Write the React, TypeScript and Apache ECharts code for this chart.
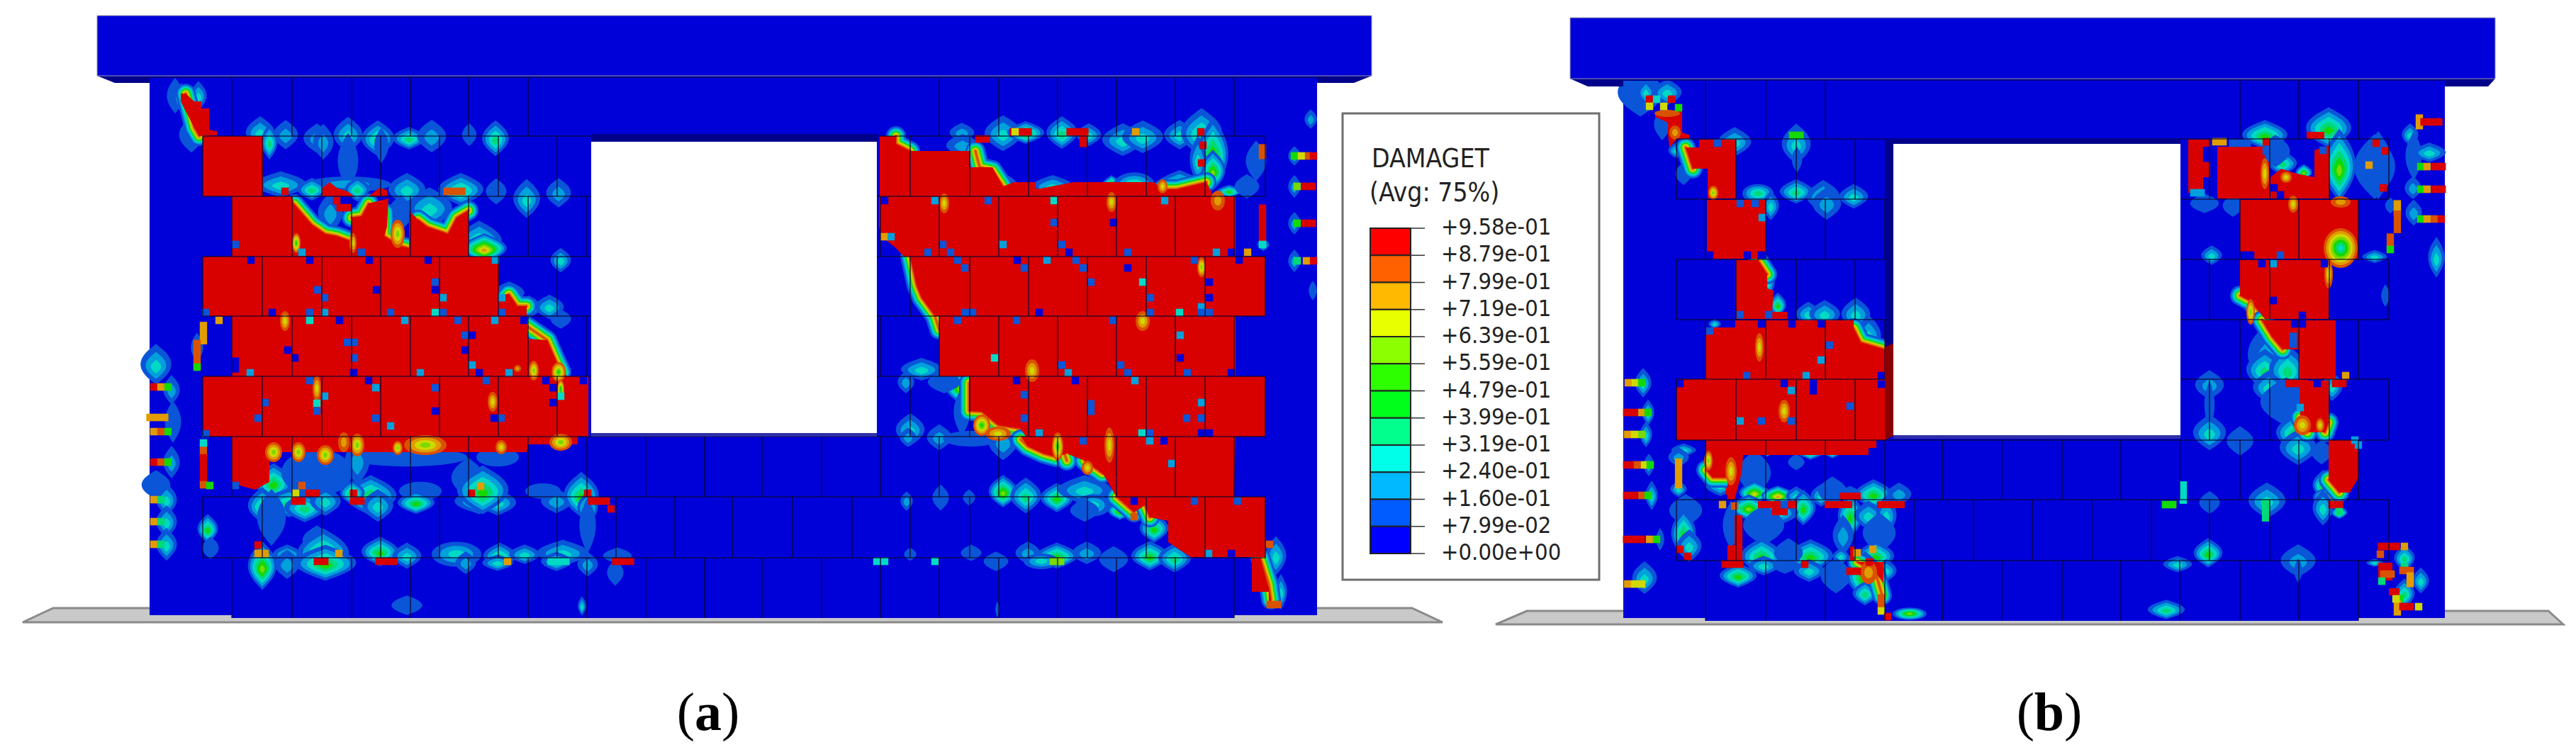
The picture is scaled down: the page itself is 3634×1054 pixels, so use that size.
import React, { useEffect, useRef } from "react";
import * as echarts from "echarts";

const W = 3634, H = 1054;

// contour palette (model, shaded) level 0..10
const levelColors = ["#0000d9","#0a55d8","#00a0dc","#00d9c5","#00d977","#14d900","#7ad900","#cfd900","#e09c00","#d95200","#d90000"];
const legendColors = ["#ff0000","#ff6000","#ffb900","#e8ff00","#8cff00","#2eff00","#00ff1a","#00ff8c","#00ffe8","#00b9ff","#005cff","#0000ff"];
const legendLabels = ["+9.58e-01","+8.79e-01","+7.99e-01","+7.19e-01","+6.39e-01","+5.59e-01","+4.79e-01","+3.99e-01","+3.19e-01","+2.40e-01","+1.60e-01","+7.99e-02","+0.00e+00"];

const plates = [
  [[32,878],[75,858],[1992,858],[2035,878]],
  [[2110,881],[2154,862],[3595,862],[3616,881]],
];
const walls = [
  [[211,107],[1858,107],[1858,868],[1741,868],[1741,872],[327,872],[327,868],[211,868]],
  [[2290,111],[3449,111],[3449,872],[3327,872],[3327,876],[2406,876],[2406,872],[2290,872]],
];
const beamFaces = [
  [[137,22],[1935,22],[1935,107],[137,107]],
  [[2215,25],[3520,25],[3520,111],[2215,111]],
];
const beamUndersides = [
  [[137,107],[1935,107],[1910,117],[1858,117],[1858,110],[211,110],[211,117],[162,117]],
  [[2215,111],[3520,111],[3510,122],[3449,122],[3449,114],[2290,114],[2290,122],[2240,122]],
];
const windows = [
  [[834,200],[1237,200],[1237,611],[834,611]],
  [[2671,203],[3076,203],[3076,614],[2671,614]],
];
const darkStrips = [
  [[834,189],[1239,189],[1239,200],[834,200]],
  [[2659,195],[3076,195],[3076,203],[2671,203],[2671,615],[2659,621]],
];
const litStrips = [
  [[2659,490],[2671,484],[2671,615],[2659,621]],
];
const sills = [
  [[834,611],[1237,611],[1237,616],[834,616]],
  [[2671,614],[3076,614],[3076,619],[2671,619]],
];

// Mortar joints
const evenJointsA = [327,412,496,579,661,745,828,911,994,1075,1159,1242,1325,1409,1492,1575,1658,1741];
const oddJointsA = [286,370,454,537,620,703,786,869,952,1033,1118,1202,1284,1368,1451,1534,1617,1700,1785];
const courseYA = [107,192,277,362,446,531,616,701,787,872];
const evenJointsB = [2406,2491,2575,2659,2740,2824,2909,2992,3075,3160,3243,3327];
const oddJointsB = [2365,2449,2534,2617,2700,2784,2867,2951,3035,3117,3202,3286,3370];
const courseYB = [111,196,281,366,451,535,621,705,791,876];

// Damaged (red) zones
const redZones: number[][][] = [
  // (a) left
  [[286,192],[371,192],[371,277],[286,277]],
  [[327,277],[412,277],[415,288],[440,317],[459,330],[475,333],[494,340],[496,307],[510,305],[520,287],[548,280],[546,320],[542,333],[565,347],[577,350],[577,297],[590,310],[603,320],[632,330],[644,307],[661,297],[661,362],[327,362]],
  [[286,362],[704,362],[704,446],[286,446]],
  [[704,446],[704,415],[718,415],[730,432],[743,432],[743,446]],
  [[327,446],[743,446],[745,478],[772,480],[785,510],[800,531],[327,531]],
  [[286,531],[830,531],[830,616],[286,616]],
  [[327,616],[815,616],[815,627],[745,627],[743,638],[660,638],[380,638],[380,680],[360,691],[327,682]],
  [[255,132],[262,132],[274,143],[284,143],[284,153],[295,153],[295,183],[306,185],[306,191],[281,192],[274,180],[262,157],[255,143]],
  [[455,277],[455,265],[465,257],[475,265],[490,270],[500,277]],
  [[520,277],[535,265],[546,268],[546,277]],
  // (a) right
  [[1241,192],[1264,192],[1264,203],[1284,213],[1369,213],[1369,236],[1400,236],[1415,263],[1430,257],[1460,257],[1462,267],[1515,257],[1628,257],[1640,267],[1660,267],[1702,257],[1712,277],[1241,277]],
  [[1240,277],[1743,277],[1743,362],[1275,362],[1264,350],[1245,335],[1240,320]],
  [[1284,362],[1785,362],[1785,446],[1319,446],[1300,420],[1293,403]],
  [[1325,446],[1743,446],[1743,531],[1325,531]],
  [[1367,531],[1785,531],[1785,616],[1447,616],[1440,605],[1408,600],[1385,581],[1367,580]],
  [[1440,616],[1743,616],[1741,701],[1575,701],[1558,672],[1555,668],[1530,650],[1505,640],[1490,645],[1472,640],[1450,630]],
  [[1575,701],[1785,701],[1785,786],[1680,786],[1648,765],[1648,735],[1622,730],[1615,713],[1600,723],[1580,705]],
  [[1766,787],[1778,787],[1790,830],[1795,856],[1790,856],[1790,835],[1766,835]],
  // (b) left
  [[2397,197],[2449,197],[2449,280],[2409,280],[2409,238],[2388,238],[2378,208],[2397,208]],
  [[2408,282],[2491,282],[2491,365],[2408,365]],
  [[2449,367],[2480,367],[2493,387],[2493,407],[2502,410],[2500,440],[2521,440],[2522,450],[2449,450]],
  [[2406,462],[2448,462],[2448,452],[2615,452],[2615,463],[2625,483],[2659,493],[2659,535],[2406,535]],
  [[2365,535],[2659,535],[2659,621],[2365,621]],
  [[2407,621],[2647,621],[2647,632],[2636,632],[2636,642],[2459,642],[2457,667],[2447,705],[2437,705],[2437,674],[2416,674],[2407,663]],
  [[2335,157],[2373,157],[2373,187],[2383,190],[2383,195],[2365,197],[2355,208],[2353,190],[2353,173],[2335,165]],
  [[2620,793],[2657,793],[2657,823],[2646,808]],
  [[2447,727],[2458,727],[2458,791],[2447,791]],
  [[2480,707],[2531,707],[2531,717],[2522,717],[2522,727],[2500,727],[2500,717],[2480,717]],
  [[2574,707],[2613,707],[2613,717],[2574,717]],
  [[2648,707],[2687,707],[2687,717],[2648,717]],
  [[2595,695],[2625,695],[2625,705],[2595,705]],
  [[2610,771],[2616,771],[2616,791],[2610,791]],
  // (b) right
  [[3087,197],[3118,197],[3118,207],[3108,207],[3108,228],[3118,228],[3118,250],[3108,250],[3108,272],[3087,272]],
  [[3128,207],[3195,207],[3195,228],[3202,228],[3202,280],[3128,280]],
  [[3203,280],[3203,250],[3218,238],[3240,245],[3265,250],[3265,212],[3286,205],[3286,280]],
  [[3160,282],[3327,282],[3327,365],[3160,365]],
  [[3160,367],[3285,367],[3285,450],[3195,450],[3175,425],[3160,417]],
  [[3191,452],[3295,452],[3295,535],[3244,535],[3244,493],[3220,493],[3205,475]],
  [[3233,537],[3285,537],[3285,596],[3280,610],[3255,610],[3245,589],[3244,546],[3233,546]],
  [[3285,621],[3327,621],[3327,674],[3315,695],[3300,695],[3285,677]],
  [[3254,186],[3279,186],[3279,196],[3254,196]],
  [[3355,794],[3375,794],[3375,819],[3355,819]],
  [[3370,830],[3385,830],[3385,840],[3370,840]],
];

// Soft contour bands along damage fronts
const fronts: number[][][] = [
  [[262,132],[274,180],[281,192]],
  [[415,288],[440,317],[459,330],[475,333],[494,340]],
  [[496,307],[510,305],[520,287]],
  [[542,300],[542,333],[565,347],[577,350]],
  [[590,310],[603,320],[632,330],[644,307],[661,297]],
  [[704,430],[718,415],[730,432],[743,432]],
  [[743,460],[772,480],[785,510],[792,525]],
  [[1376,213],[1382,236],[1400,240],[1415,263]],
  [[1640,267],[1660,267],[1702,257]],
  [[1264,192],[1264,203],[1284,213]],
  [[1284,362],[1293,403],[1300,420],[1319,446],[1325,465]],
  [[1367,540],[1367,580],[1385,581],[1408,600],[1440,605],[1447,616]],
  [[1440,620],[1450,630],[1472,640],[1490,645]],
  [[1495,620],[1505,650]],
  [[1530,650],[1555,668]],
  [[1575,701],[1600,723]],
  [[1615,713],[1622,730]],
  [[1778,787],[1790,825],[1793,846]],
  [[2480,367],[2493,387]],
  [[2378,208],[2388,238]],
  [[2615,463],[2625,483],[2659,493]],
  [[2407,663],[2416,674],[2437,674]],
  [[3160,417],[3175,425],[3195,450]],
  [[3191,452],[3205,475],[3220,493]],
  [[3285,677],[3300,695]],
  [[3245,589],[3255,610]],
  [[3285,596],[3280,610]],
  [[2620,793],[2646,808],[2655,840]],
];

// Nested contour patches: x, y, rx, ry, highest level
const patches: number[][] = [
  // (a) upper left
  [367,187,14,20,3],[403,190,12,18,2],[447,195,13,18,2],[491,190,14,22,3],[533,195,16,22,4],[577,195,16,14,4],[609,192,14,20,2],[662,190,7,14,1],[699,195,13,22,4],
  [380,200,8,22,4],[456,200,10,22,2],[538,205,7,22,1],[491,227,10,35,1],[491,260,60,10,2],[396,260,25,16,3],[440,267,14,14,4],[504,267,12,15,4],[574,267,18,20,3],[650,267,22,20,4],[700,270,10,16,1],[743,280,13,24,3],[788,272,12,18,2],
  [466,300,12,25,2],[565,300,12,22,1],[606,293,22,25,3],[676,340,22,25,4],[683,350,22,18,8],[718,413,15,14,3],[746,433,12,14,4],[775,433,14,15,3],[791,450,10,12,1],[791,367,10,15,3],
  [247,135,8,22,1],[256,138,8,18,3],[280,135,8,18,3],[270,190,12,22,1],
  [220,514,15,25,3],[220,684,14,18,1],[278,490,6,18,1],
  [242,550,8,18,2],[244,595,8,26,1],[242,652,8,20,2],[235,705,10,20,3],[235,736,10,20,3],[235,768,10,20,3],
  // (a) lower left
  [386,681,18,24,5],[447,667,50,30,1],[574,645,85,12,1],[702,645,30,12,1],[504,650,12,30,2],[660,674,16,25,1],[593,693,30,12,1],[766,693,25,10,1],
  [370,713,14,22,4],[408,709,25,18,4],[430,716,20,18,4],[459,707,15,18,3],[523,699,25,25,5],[497,695,12,15,5],[533,713,15,20,3],[587,709,18,14,5],[676,707,24,16,3],[702,709,18,16,3],[681,691,25,30,5],[785,707,15,15,2],[820,698,17,28,5],[829,716,10,20,4],
  [383,730,14,35,1],[829,741,8,35,1],[293,746,10,18,5],[297,773,8,14,1],[447,762,14,18,1],
  [405,782,14,12,3],[456,780,25,30,5],[459,794,30,22,5],[370,798,14,30,6],[405,796,12,18,2],[536,778,18,18,5],[574,784,14,16,3],[644,782,35,16,3],[657,794,10,14,2],[705,784,16,16,4],[740,782,15,12,3],[702,794,15,10,3],[794,780,25,16,3],[785,792,15,12,3],[829,796,10,15,2],[871,784,14,10,1],[868,808,8,16,1],[574,854,15,12,1],[821,855,4,12,3],
  // (a) upper right
  [1849,168,6,12,2],[1852,410,4,12,1],[1826,220,6,12,2],[1826,263,6,14,2],[1826,315,6,14,2],[1826,368,6,14,2],
  [1357,187,12,12,2],[1415,188,18,22,3],[1447,187,18,14,5],[1498,187,15,20,4],[1536,190,12,14,3],[1584,197,20,20,3],[1612,193,20,20,3],[1664,190,15,18,3],[1695,187,20,30,4],[1711,217,15,45,6],[1711,240,12,25,6],
  [1415,262,14,16,3],[1485,263,20,14,3],[1568,263,10,14,8],[1600,263,30,18,4],[1664,263,24,20,5],[1734,270,12,8,5],[1772,227,10,25,1],[1759,263,12,15,1],[1358,205,16,14,2],[1276,300,8,30,1],
  [1690,225,8,30,3],[1782,345,6,8,3],
  // (a) lower right
  [1300,521,20,14,3],[1278,539,8,14,2],[1284,606,14,20,3],[1281,617,8,12,2],[1325,617,12,16,2],[1370,619,40,10,1],[1415,624,14,22,2],[1354,546,14,20,6],[1332,539,16,14,1],[1357,581,8,30,1],
  [1415,693,14,20,6],[1447,699,15,22,4],[1491,702,16,18,5],[1530,691,26,18,3],[1542,713,25,14,3],[1580,720,12,12,6],[1530,720,14,14,1],[1628,745,14,18,5],[1327,702,8,16,1],[1367,702,6,10,1],[1279,707,6,12,2],
  [1450,780,12,14,2],[1491,784,20,16,5],[1469,792,25,10,3],[1533,780,14,14,2],[1571,789,14,16,1],[1622,784,18,18,5],[1657,787,16,18,4],[1284,782,6,8,1],[1370,780,10,10,1],[1405,792,12,12,1],[1800,784,10,24,3],[1807,835,6,22,3],[1407,860,2,10,1],
  // (b) upper left
  [2314,130,22,30,1],[2352,130,14,16,3],[2322,130,8,16,3],[2345,175,8,20,1],[2365,212,8,10,3],[2375,245,8,14,1],
  [2447,200,16,18,3],[2480,273,22,12,4],[2534,270,16,15,4],[2572,277,16,20,3],[2615,277,14,15,3],[2534,203,14,25,3],[2577,287,14,20,2],[2498,290,8,18,3],[2535,225,5,16,1],
  [2508,430,8,15,5],[2495,397,6,20,3],[2551,443,12,15,3],[2574,443,15,17,3],[2618,443,14,20,3],[2636,473,12,25,3],[2643,490,12,8,7],[2419,457,6,6,3],
  // (b) lower left
  [2375,635,12,8,3],[2368,645,10,12,2],[2368,690,8,10,3],
  [2554,635,15,12,6],[2585,633,12,12,7],[2478,628,8,6,3],[2493,633,8,10,8],[2534,652,8,10,1],[2475,667,16,28,1],[2475,695,15,14,7],[2508,699,16,12,8],[2534,700,10,12,3],[2569,699,10,14,3],[2585,693,14,18,1],[2643,697,18,18,5],[2610,697,10,10,1],[2679,697,12,14,2],[2427,684,15,14,3],
  [2467,716,18,16,6],[2544,716,12,22,5],[2610,727,12,28,5],[2636,727,14,18,3],[2661,727,10,25,3],[2508,723,20,16,3],[2378,720,16,20,1],[2375,752,12,30,5],[2383,770,12,20,3],[2442,741,8,30,1],[2488,741,20,25,1],[2651,752,16,25,1],[2600,755,10,25,2],
  [2485,784,20,22,5],[2554,784,22,20,5],[2646,784,18,18,5],[2523,780,14,18,1],[2597,785,8,10,3],[2452,812,18,15,5],[2488,798,15,12,3],[2552,805,15,14,3],[2518,798,12,10,1],[2590,812,15,22,1],[2631,812,18,30,6],[2631,837,12,15,4],[2661,805,10,14,3],[2694,866,24,8,6],
  [2318,540,8,18,3],[2325,582,6,16,3],[2322,613,6,16,3],[2326,656,5,14,2],[2330,699,6,18,3],[2342,761,4,14,1],[2320,815,12,20,3],
  // (b) upper right
  [3285,180,22,25,5],[3195,190,22,18,5],[3300,233,16,45,6],[3355,233,14,42,6],[3220,230,14,15,4],[3210,213,14,20,1],[3250,243,8,10,6],
  [3110,287,14,12,1],[3150,290,10,14,1],[3120,360,10,12,3],[3350,362,12,8,3],[3365,417,4,14,1],
  [3400,190,8,14,3],[3405,220,8,30,1],[3404,265,8,14,2],[3405,300,8,16,2],[3437,363,8,25,3],
  [3427,215,16,12,3],[3372,290,5,10,1],[3350,235,20,40,1],
  // (b) lower right
  [3200,500,20,40,2],[3195,521,18,25,4],[3227,521,18,30,4],[3117,543,14,18,2],[3117,571,5,30,1],[3117,610,16,22,3],[3160,622,13,18,1],[3200,546,15,20,3],[3225,567,25,30,1],[3240,610,20,24,5],[3242,631,18,22,3],[3275,638,10,15,1],[3277,684,10,18,5],[3285,702,22,12,7],[3277,716,10,22,3],[3300,723,8,8,5],[3198,706,18,22,3],[3117,709,10,14,1],[3115,780,14,18,5],[3242,791,17,20,2],[3242,805,4,15,1],[3072,796,14,10,3],[3056,860,18,12,4],
  [3415,819,8,16,3],[3392,787,10,16,4],[3392,837,10,18,4],[3350,794,8,5,3],[3290,545,10,18,3],
];

// Patches of lower damage inside red zones: x, y, rx, ry, lowest level
const dips: number[][] = [
  [695,567,7,14,7],[447,548,6,18,7],[753,523,7,14,6],[788,525,10,14,5],[402,453,7,14,7],[791,550,5,14,4],[561,330,10,20,6],[498,343,5,14,7],[418,343,6,14,5],
  [600,628,30,14,6],[791,624,16,12,6],[504,628,10,16,6],[386,638,12,14,6],[459,642,12,14,6],[421,638,10,14,6],[561,632,7,10,6],[707,631,8,10,7],[485,624,8,14,8],[730,520,5,5,8],
  [1612,453,10,14,7],[1456,523,10,16,7],[1695,377,6,14,6],[1565,628,7,25,7],[1332,287,7,14,7],[1568,285,7,14,7],[1718,283,10,14,8],[1640,263,7,10,7],
  [1385,600,12,15,5],[1408,612,18,10,7],[1492,630,8,20,5],[1534,660,8,10,7],
  [2417,272,7,10,6],[2482,490,6,20,7],[3235,288,7,12,7],[3302,285,14,8,8],[3302,350,24,28,3],[3225,250,8,8,7],[3195,245,6,22,7],
  [3285,387,6,20,7],[2517,580,8,16,7],[2410,650,6,14,6],[2442,665,8,20,7],[3248,600,12,14,7],[3273,600,6,10,7],[3175,440,6,18,6],
  [2352,160,18,5,9],[2363,187,8,10,8],[2636,808,12,16,8],
];

// Single mesh elements: x, y, level, cells wide, cells tall
const elements: number[][] = [
  // (a) left wall
  [332,345,1,1,1],[426,356,2,1,1],[510,356,1,1,1],[354,367,0,1,1],[437,367,0,1,1],[521,367,0,1,1],[604,367,0,1,1],[699,367,2,1,1],[614,398,1,1,1],[614,409,0,1,1],[448,409,1,1,1],[531,409,0,1,1],[458,420,1,1,1],[625,420,2,1,1],[708,420,2,1,1],[290,441,1,1,1],[384,441,0,1,1],[437,441,1,1,1],[458,441,2,1,1],[551,441,1,1,1],[614,441,3,1,1],[625,441,1,1,1],[708,441,1,1,1],
  [437,452,3,1,1],[479,452,0,1,1],[571,452,2,1,1],[646,452,1,1,1],[698,452,2,1,1],[739,452,0,1,1],[656,473,1,1,1],[666,473,0,1,1],[490,483,1,1,1],[500,483,1,1,1],[406,494,0,1,1],[656,494,0,1,1],[416,505,0,1,1],[500,505,1,1,1],[666,515,2,1,1],[332,515,0,1,2],[353,526,2,1,1],[499,526,0,1,1],[593,526,2,1,1],[676,526,0,1,1],[718,526,2,1,1],
  [437,537,1,1,1],[520,537,0,1,1],[530,547,2,1,1],[686,537,1,1,1],[770,537,0,1,1],[780,547,0,1,1],[823,537,0,1,1],[614,547,1,1,1],[447,569,3,1,1],[374,568,1,1,1],[780,568,0,1,1],[447,580,1,1,1],[614,580,0,1,1],[364,590,1,1,1],[530,590,1,1,1],[551,601,2,1,1],[697,590,0,1,1],[707,590,1,1,1],[290,612,1,1,1],[458,559,2,1,1],[791,559,3,1,1],[309,452,8,1,1],
  [287,470,8,1,3],[278,490,9,1,2],[278,505,9,1,3],[278,518,5,1,1],[287,636,9,1,2],[287,662,10,1,4],[287,684,9,1,1],[287,625,3,1,1],
  [475,283,10,1,1],[485,293,10,2,1],[641,270,9,3,1],[402,270,10,1,1],
  // (a) wall bars left
  [217,546,10,1,1],[227,546,8,1,1],[237,546,5,1,1],[222,589,8,3,1],[217,609,8,1,1],[227,609,9,1,1],[237,609,5,1,1],[217,652,10,1,1],[227,652,9,1,1],[237,652,5,1,1],[217,705,8,1,1],[227,705,4,1,1],[217,736,8,1,1],[227,736,4,1,1],[217,768,8,1,1],[227,768,4,1,1],
  // (a) band elements
  [829,696,10,1,1],[845,707,10,3,1],[862,718,10,1,1],[665,696,10,1,1],[499,696,10,1,1],[421,707,10,2,1],[441,696,10,2,1],[504,707,10,2,1],[426,685,9,1,1],[417,696,7,1,1],[332,685,1,1,1],[678,686,8,1,1],[364,769,10,1,1],[364,781,8,1,1],[374,781,8,1,1],[478,781,8,1,1],[453,792,10,2,1],[545,792,10,3,1],[879,792,10,3,1],[716,792,8,1,1],[788,792,3,3,1],[296,685,5,1,1],
  [1781,315,10,1,5],[1781,345,3,1,1],
  // (a) right wall
  [1248,283,0,1,1],[1319,283,2,1,1],[1394,283,1,1,1],[1487,283,3,1,1],[1643,283,2,1,1],[1487,314,1,1,1],[1571,314,0,1,1],[1257,334,2,1,1],[1247,334,8,1,1],[1330,345,1,1,1],[1415,345,2,1,1],[1498,345,1,1,1],[1309,356,1,1,1],[1341,356,1,1,1],[1508,356,0,1,1],[1591,356,1,1,1],[1716,356,2,1,1],[1737,356,0,1,1],[1760,356,8,1,1],[1351,367,1,1,1],[1435,367,0,1,1],[1477,367,2,1,1],[1518,367,1,1,1],[1685,367,1,1,1],[1748,367,0,1,1],[1361,378,1,1,1],[1445,378,1,1,1],[1528,378,1,1,1],[1591,378,0,1,1],[1539,398,1,1,1],[1612,398,3,1,1],[1706,398,0,1,1],[1623,420,1,1,1],[1706,420,0,1,1],[1362,441,1,1,1],[1372,441,1,1,1],[1466,441,0,1,1],[1623,441,1,1,1],[1664,441,3,1,1],[1695,433,2,1,1],[1695,441,1,1,1],[1706,441,1,1,1],[1351,452,1,1,1],[1434,452,1,1,1],[1570,452,1,1,1],[1665,473,2,1,1],[1403,505,3,1,1],[1665,505,0,1,1],[1498,515,1,1,1],[1581,515,1,1,1],[1507,526,2,1,1],[1591,526,1,1,1],[1675,526,1,1,1],[1737,526,0,1,1],
  [1434,537,0,1,1],[1517,537,0,1,1],[1601,537,2,1,1],[1445,557,1,1,1],[1539,575,1,1,2],[1695,568,2,1,1],[1445,590,1,1,1],[1674,590,1,1,1],[1695,590,1,1,1],[1466,611,2,1,1],[1611,611,3,1,1],[1622,611,1,1,1],[1695,611,0,1,1],[1706,611,0,1,1],[1528,622,1,1,1],[1622,622,2,1,1],[1642,622,0,1,1],[1653,654,2,1,1],[1600,707,0,1,1],[1685,707,1,1,1],[1746,707,1,1,1],[1600,729,9,1,1],[1705,781,2,1,1],[1737,781,0,1,1],
  [1237,792,3,1,1],[1248,792,3,1,1],[1319,792,3,1,1],[1491,792,6,2,1],[1791,768,9,1,1],[1797,853,9,2,1],
  [1386,196,10,2,1],[1440,186,10,3,1],[1520,186,10,3,1],[1602,186,8,1,1],[1432,186,7,1,1],[1528,197,10,1,2],[1694,186,10,1,1],[1697,205,10,1,1],[1695,230,10,1,1],[1781,214,9,1,2],
  [1826,220,5,1,1],[1836,220,7,1,1],[1846,220,9,1,1],[1853,220,10,1,1],[1830,263,6,1,1],[1846,263,10,2,1],[1830,315,5,1,1],[1846,315,10,2,1],[1830,368,4,1,1],[1843,368,8,1,1],[1853,368,10,1,1],
  // (b) left wall
  [2423,202,1,1,1],[2455,287,1,1,1],[2476,287,1,1,1],[2486,307,2,1,1],[2412,360,0,1,1],[2465,360,0,1,1],[2485,360,0,1,1],[2455,444,1,1,1],[2495,444,1,1,1],[2485,457,0,1,1],[2528,457,0,1,1],[2569,457,0,1,1],[2581,487,1,1,1],[2569,508,2,1,1],[2412,467,1,1,1],[2534,191,5,2,1],
  [2464,530,1,1,1],[2548,530,2,1,1],[2654,530,0,1,1],[2654,542,0,1,1],[2370,541,0,1,1],[2517,541,0,1,1],[2558,546,0,1,2],[2527,551,2,1,1],[2610,573,1,1,1],[2455,594,2,1,1],[2485,594,1,1,1],[2527,594,1,1,1],
  [2327,140,10,1,1],[2358,140,10,1,1],[2327,150,7,1,1],[2347,150,7,1,1],[2368,152,5,1,1],[2337,140,3,1,1],
  [2297,540,8,1,1],[2307,540,7,1,1],[2316,540,5,1,1],[2300,582,10,2,1],[2316,582,8,1,1],[2325,582,5,1,1],[2296,613,8,1,1],[2306,613,7,1,1],[2316,613,6,1,1],[2300,656,10,2,1],[2310,656,9,1,1],[2320,656,7,1,1],[2328,656,5,1,1],[2300,699,10,2,1],[2316,699,9,1,1],[2325,699,5,1,1],[2305,761,10,3,1],[2327,761,8,1,1],[2337,761,5,1,1],[2296,824,8,1,1],[2306,824,7,1,1],[2316,824,7,1,1],
  [2368,668,8,1,4],[2444,796,10,3,1],[2546,796,10,1,1],[2654,849,9,1,2],[2654,862,7,1,1],[2663,870,10,1,1],[2370,775,10,1,1],[2381,785,10,1,1],[2442,780,10,1,2],[2637,793,10,1,1],[2530,712,10,1,1],[2517,712,1,1,1],[2447,714,9,1,1],[2430,712,8,1,1],[2440,693,10,1,1],
  [2620,780,8,1,1],[2642,775,8,1,1],[2615,806,10,2,1],
  // (b) right wall
  [3160,202,1,3,1],[3131,200,8,2,1],[3197,200,10,1,1],[3197,213,1,1,1],[3113,218,0,1,2],[3208,265,0,1,1],[3217,275,0,1,1],[3277,212,1,1,1],[3352,202,10,1,1],[3365,213,10,1,1],[3342,233,8,1,1],[3362,265,10,1,1],[3100,272,2,2,1],
  [3165,360,0,1,1],[3175,360,0,1,1],[3217,360,1,1,1],[3191,372,0,1,1],[3207,372,2,1,1],[3279,372,0,1,1],[3207,424,0,1,1],[3248,445,0,1,1],[3237,457,0,1,1],[3248,457,0,1,1],[3235,480,1,1,2],
  [3300,541,10,2,1],[3309,530,8,1,1],[3269,541,0,1,1],[3240,541,10,3,1],[3245,575,2,1,1],[3322,621,2,1,1],[3327,628,2,1,1],
  [3295,712,10,2,1],[3300,722,4,1,1],[3060,712,5,2,1],[3080,695,3,1,3],[3196,720,4,1,3],
  [3413,172,8,1,2],[3430,172,10,3,1],[3415,235,5,1,1],[3424,235,8,1,1],[3440,235,10,2,1],[3415,267,5,1,1],[3424,267,8,1,1],[3440,267,10,2,1],[3415,309,5,1,1],[3424,309,8,1,1],[3434,309,9,1,1],[3444,309,10,1,1],
  [3382,293,8,1,2],[3382,313,9,1,3],[3372,340,9,1,2],[3372,352,5,1,1],
  [3370,771,10,3,1],[3392,771,8,1,1],[3392,800,4,1,1],[3395,805,9,2,1],[3400,818,8,1,2],[3358,782,9,1,1],[3368,810,9,2,1],[3360,820,4,1,1],[3385,845,5,1,1],[3382,858,8,1,2],[3395,856,10,2,1],[3412,856,7,1,1],[3380,845,7,1,1],
];

const rowJoints = (ys: number[], even: number[], odd: number[], skipTop: number[], win: number[]) => {
  const out: number[][] = [];
  for (let r = 0; r < ys.length - 1; r++) {
    const js = r % 2 === 0 ? even : odd;
    for (const x of js) {
      if (r === 0 && x > skipTop[0] && x < skipTop[1]) continue;
      if (r >= 1 && r <= 5 && x > win[0] && x < win[1]) continue;
      out.push([x, ys[r], x, ys[r + 1]]);
    }
  }
  return out;
};
const jointSegments: number[][] = [
  ...rowJoints(courseYA, evenJointsA, oddJointsA, [750, 1320], [834, 1239]),
  ...rowJoints(courseYB, evenJointsB, oddJointsB, [2580, 3155], [2660, 3076]),
  ...courseYA.slice(1, 9).map((y) => [286, y, 1785, y]),
  ...courseYB.slice(1, 9).map((y) => [2365, y, 3370, y]),
  [211, 107, 1858, 107],
  [2290, 111, 3449, 111],
];

const polySeries = (polys: number[][][], fill: string, stroke?: string, lineWidth = 0) => ({
  type: "custom",
  silent: true,
  clip: false,
  data: polys.map((p) => p[0]),
  encode: { x: 0, y: 1 },
  renderItem: (params: any, api: any) => ({
    type: "polygon",
    shape: { points: polys[params.dataIndex].map((p) => api.coord(p)) },
    style: { fill, stroke: stroke || "none", lineWidth },
  }),
});

const ellipseAt = (api: any, x: number, y: number, rx: number, ry: number, fill: string) => {
  const c = api.coord([x, y]);
  const s = api.size([rx, ry]);
  return { type: "ellipse", shape: { cx: c[0], cy: c[1], rx: Math.abs(s[0]), ry: Math.abs(s[1]) }, style: { fill } };
};

// Contours around a joint come to a point at top and bottom
const lensAt = (api: any, x: number, y: number, rx: number, ry: number, fill: string) => {
  const points: number[][] = [];
  const steps = 9;
  for (let i = -steps; i <= steps; i++) {
    const t = i / steps;
    points.push(api.coord([x + rx * Math.pow(1 - t * t, 1.1), y + ry * t]));
  }
  for (let i = steps - 1; i > -steps; i--) {
    const t = i / steps;
    points.push(api.coord([x - rx * Math.pow(1 - t * t, 1.1), y + ry * t]));
  }
  return { type: "polygon", shape: { points }, style: { fill } };
};

const frontBands: number[][] = [[28, 1], [23, 2], [19, 3], [16, 4], [13, 5], [11, 6], [8.5, 7], [6, 8], [3, 9]];

function buildOption() {
  const tickTop = 322, tickStep = 38.25;
  const legendFont = "32.5px 'DejaVu Sans Condensed', 'DejaVu Sans'";
  const titleFont = "37px 'DejaVu Sans Condensed', 'DejaVu Sans'";
  const labelTexts = legendLabels.map((t, i) => ({
    type: "text",
    z: 50,
    x: 2033,
    y: tickTop + i * tickStep - 2,
    style: { text: t, fill: "#222", font: legendFont, textVerticalAlign: "middle", textAlign: "left" },
  }));
  const serif = "76px 'Liberation Serif'", serifBold = "bold 76px 'Liberation Serif'";
  return {
    animation: false,
    backgroundColor: "#ffffff",
    grid: { left: 0, right: 0, top: 0, bottom: 0 },
    xAxis: { type: "value", min: 0, max: W, show: false },
    yAxis: { type: "value", min: 0, max: H, inverse: true, show: false },
    series: [
      polySeries(plates, "#c9c9c9", "#8a8a8a", 3),
      polySeries(walls, levelColors[0]),
      {
        type: "custom", silent: true, clip: false,
        data: patches.map((p) => [p[0], p[1]]), encode: { x: 0, y: 1 },
        renderItem: (params: any, api: any) => {
          const [x, y, rx, ry, top] = patches[params.dataIndex];
          const children: any[] = [];
          const wide = rx > ry * 1.6;
          for (let l = 1; l <= top; l++) {
            const s = 1 - (l - 1) / top;
            children.push(
              wide
                ? ellipseAt(api, x, y, rx * s, ry * s * 1.1, levelColors[l])
                : lensAt(api, x, y + (ry * (1 - s)) * 0.2, rx * s * 1.45, ry * s * 1.15, levelColors[l])
            );
          }
          return { type: "group", children };
        },
      },
      {
        type: "custom", silent: true, clip: false,
        data: fronts.map((p) => p[0]), encode: { x: 0, y: 1 },
        renderItem: (params: any, api: any) => ({
          type: "group",
          children: frontBands.map(([w, l]) => ({
            type: "polyline",
            shape: { points: fronts[params.dataIndex].map((p) => api.coord(p)) },
            style: { fill: "none", stroke: levelColors[l], lineWidth: w, lineJoin: "round", lineCap: "round" },
          })),
        }),
      },
      polySeries(redZones, levelColors[10]),
      {
        type: "custom", silent: true, clip: false,
        data: dips.map((p) => [p[0], p[1]]), encode: { x: 0, y: 1 },
        renderItem: (params: any, api: any) => {
          const [x, y, rx, ry, low] = dips[params.dataIndex];
          const children: any[] = [];
          const n = 10 - low;
          for (let l = 9; l >= low; l--) {
            const s = 1.0 - (9 - l) / n;
            children.push(ellipseAt(api, x, y, rx * s, ry * s, levelColors[l]));
          }
          return { type: "group", children };
        },
      },
      {
        type: "custom", silent: true, clip: false,
        data: elements.map((e) => [e[0], e[1]]), encode: { x: 0, y: 1 },
        renderItem: (params: any, api: any) => {
          const [x, y, level, wc, hc] = elements[params.dataIndex];
          const c = api.coord([x, y]);
          const s = api.size([10.4 * wc, 10.6 * hc]);
          const w = Math.abs(s[0]), h = Math.abs(s[1]);
          return { type: "rect", shape: { x: c[0] - w / 2, y: c[1] - h / 2, width: w, height: h }, style: { fill: levelColors[level] } };
        },
      },
      {
        type: "custom", silent: true, clip: false,
        data: jointSegments.map((s) => [s[0], s[1]]), encode: { x: 0, y: 1 },
        renderItem: (params: any, api: any) => {
          const [x1, y1, x2, y2] = jointSegments[params.dataIndex];
          const a = api.coord([x1, y1]), b = api.coord([x2, y2]);
          return { type: "line", shape: { x1: a[0], y1: a[1], x2: b[0], y2: b[1] }, style: { stroke: "rgba(12,8,45,0.78)", lineWidth: 1.6 } };
        },
      },
      polySeries(windows, "#ffffff"),
      polySeries(darkStrips, "#00008a"),
      polySeries(litStrips, "#8a0000"),
      polySeries(sills, "#2f2fa8"),
      polySeries(beamUndersides, "#00008a"),
      polySeries(beamFaces, levelColors[0], "#9a9ab0", 1),
      polySeries([[[1894, 160], [2256, 160], [2256, 818], [1894, 818]]], "#ffffff", "#6e6e6e", 3),
      {
        type: "custom", silent: true, clip: false, z: 20,
        data: legendColors.map((_, i) => [1933, tickTop + i * tickStep]), encode: { x: 0, y: 1 },
        renderItem: (params: any, api: any) => {
          const i = params.dataIndex;
          const a = api.coord([1933, tickTop + i * tickStep]);
          const s = api.size([57, tickStep]);
          return {
            type: "rect",
            shape: { x: a[0], y: a[1], width: Math.abs(s[0]), height: Math.abs(s[1]) },
            style: { fill: legendColors[i], stroke: "#222", lineWidth: 2 },
          };
        },
      },
      {
        type: "custom", silent: true, clip: false, z: 20,
        data: legendLabels.map((_, i) => [1990, tickTop + i * tickStep]), encode: { x: 0, y: 1 },
        renderItem: (params: any, api: any) => {
          const y = tickTop + params.dataIndex * tickStep;
          const a = api.coord([1990, y]), b = api.coord([2010, y]);
          return { type: "line", shape: { x1: a[0], y1: a[1], x2: b[0], y2: b[1] }, style: { stroke: "#333", lineWidth: 1.5 } };
        },
      },
    ],
    graphic: [
      { type: "text", z: 50, x: 1935, y: 223, style: { text: "DAMAGET", fill: "#222", font: titleFont, textVerticalAlign: "middle" } },
      { type: "text", z: 50, x: 1932, y: 271, style: { text: "(Avg: 75%)", fill: "#222", font: titleFont, textVerticalAlign: "middle" } },
      ...labelTexts,
      { type: "text", z: 50, x: 980, y: 1004, style: { text: "(", fill: "#000", font: serif, textAlign: "right", textVerticalAlign: "middle" } },
      { type: "text", z: 50, x: 999, y: 1004, style: { text: "a", fill: "#000", font: serifBold, textAlign: "center", textVerticalAlign: "middle" } },
      { type: "text", z: 50, x: 1018, y: 1004, style: { text: ")", fill: "#000", font: serif, textAlign: "left", textVerticalAlign: "middle" } },
      { type: "text", z: 50, x: 2870, y: 1004, style: { text: "(", fill: "#000", font: serif, textAlign: "right", textVerticalAlign: "middle" } },
      { type: "text", z: 50, x: 2891, y: 1004, style: { text: "b", fill: "#000", font: serifBold, textAlign: "center", textVerticalAlign: "middle" } },
      { type: "text", z: 50, x: 2912, y: 1004, style: { text: ")", fill: "#000", font: serif, textAlign: "left", textVerticalAlign: "middle" } },
    ],
  };
}

export default function App() {
  const ref = useRef<HTMLDivElement>(null);
  useEffect(() => {
    document.body.style.margin = "0";
    const chart = echarts.init(ref.current as HTMLDivElement, null, { renderer: "svg" });
    chart.setOption(buildOption() as any);
    return () => chart.dispose();
  }, []);
  return <div ref={ref} style={{ width: W, height: H, position: "absolute", left: 0, top: 0, background: "#fff" }} />;
}
